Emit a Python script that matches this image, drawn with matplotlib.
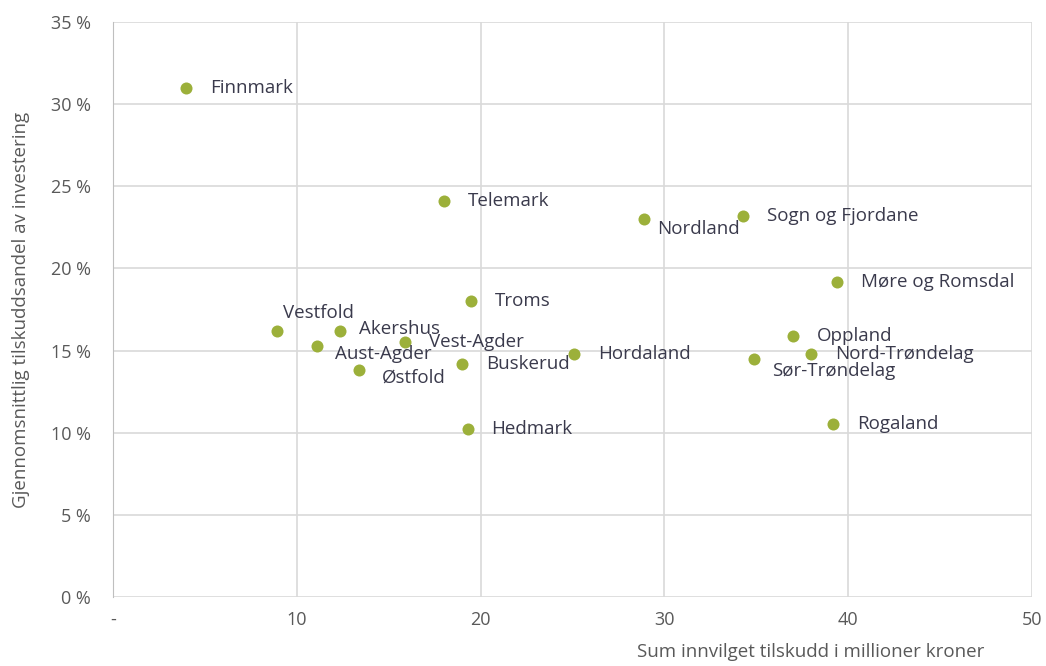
import numpy as np
from matplotlib import pyplot as plt
from matplotlib.ticker import FuncFormatter

# Fylker: sum innvilget tilskudd (mill. kr) og gjennomsnittlig tilskuddsandel (%)
fylker = ["Finnmark", "Telemark", "Nordland", "Sogn og Fjordane", "Møre og Romsdal",
          "Troms", "Vestfold", "Akershus", "Vest-Agder", "Aust-Agder", "Østfold",
          "Buskerud", "Hordaland", "Oppland", "Nord-Trøndelag", "Sør-Trøndelag",
          "Rogaland", "Hedmark"]
tilskudd = [4.0, 18.0, 28.9, 34.3, 39.4, 19.5, 8.9, 12.35, 15.9, 11.1, 13.4,
            19.0, 25.1, 37.0, 38.0, 34.9, 39.2, 19.3]
andel = [31.0, 24.1, 23.0, 23.2, 19.2, 18.0, 16.2, 16.2, 15.5, 15.3, 13.8,
         14.2, 14.8, 15.9, 14.8, 14.5, 10.5, 10.2]

# label offsets in points (dx, dy)
offsets = {
    "Vestfold": (5, 13), "Nordland": (9, -7), "Aust-Agder": (13, -6),
    "Østfold": (16, -5), "Sør-Trøndelag": (13, -9), "Vest-Agder": (17, 0),
    "Akershus": (14, 1), "Nord-Trøndelag": (17, 0),
}

plt.rcParams['font.family'] = ['Open Sans', 'DejaVu Sans']

fig = plt.figure(figsize=(10.46, 6.66), dpi=100)
ax = fig.add_axes([0.108, 0.1036, 0.8786, 0.8634])

ax.scatter(tilskudd, andel, s=75, color="#9cb03a", zorder=3, linewidths=0)

for navn, x, y in zip(fylker, tilskudd, andel):
    dx, dy = offsets.get(navn, (17, 0))
    ax.annotate(navn, (x, y), xytext=(dx, dy), textcoords="offset points",
                ha="left", va="center", fontsize=13.5, color="#3a3a4c")

ax.set_xlim(0, 50)
ax.set_ylim(0, 35)
ax.set_xticks([0, 10, 20, 30, 40, 50])
ax.set_yticks(np.arange(0, 36, 5))
ax.xaxis.set_major_formatter(FuncFormatter(lambda v, p: "-" if v == 0 else "%d" % v))
ax.yaxis.set_major_formatter(FuncFormatter(lambda v, p: "%d %%" % v))
ax.tick_params(axis="y", length=0, labelsize=13, colors="#595959", pad=16)
ax.tick_params(axis="x", length=0, labelsize=13, colors="#595959", pad=10)
ax.grid(True, color="#d9d9d9", linewidth=1.2)
ax.set_axisbelow(True)
for side in ["top", "right", "bottom"]:
    ax.spines[side].set_visible(False)
ax.spines["left"].set_color("#bfbfbf")

fig.text(0.02, 0.535, "Gjennomsnittlig tilskuddsandel av investering", rotation=90,
         ha="center", va="center", fontsize=13.5, color="#595959")
fig.text(0.775, 0.008, "Sum innvilget tilskudd i millioner kroner",
         ha="center", va="bottom", fontsize=13.5, color="#595959")

fig.savefig("out.png", dpi=100)
